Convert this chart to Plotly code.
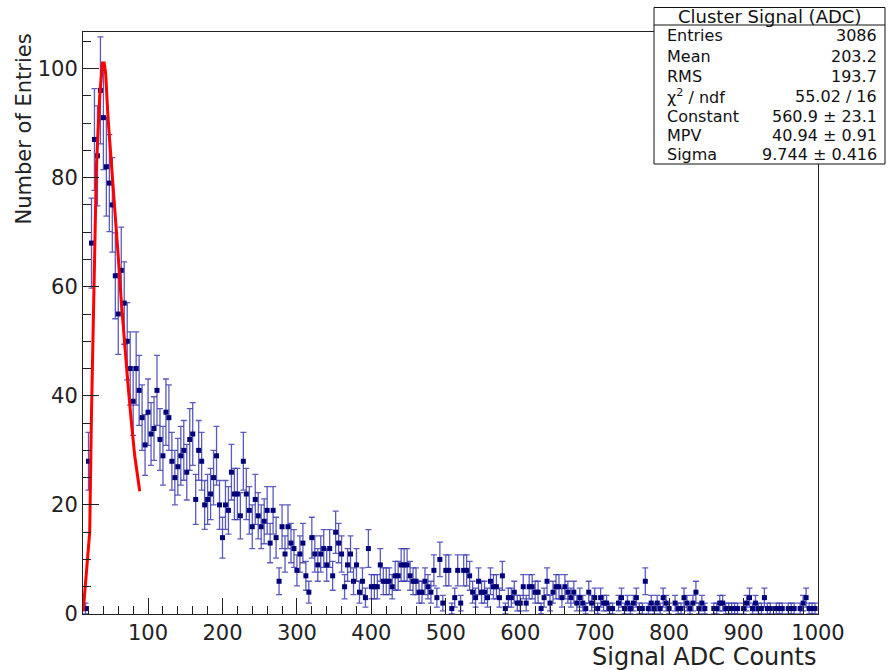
import plotly.graph_objects as go

# ---------------- data ----------------
BIN_LOW = 14.0
BIN_WIDTH = 4.0
counts = [
    1, 28, 68, 87, 84, 96, 91, 82, 79, 75, 62, 55, 63, 57, 50, 45, 39, 45, 41, 36,
    31, 37, 33, 34, 41, 32, 29, 37, 36, 28, 25, 27, 29, 30, 26, 32, 33, 21, 30, 28,
    20, 21, 22, 25, 29, 20, 14, 20, 19, 26, 22, 22, 18, 28, 22, 19, 16, 21, 18, 16,
    17, 19, 13, 19, 14, 6, 16, 11, 16, 13, 12, 8, 11, 13, 7, 4, 14, 11, 9, 11,
    12, 9, 12, 7, 15, 13, 11, 5, 9, 11, 6, 9, 4, 6, 3, 12, 5, 5, 5, 9,
    6, 6, 6, 5, 7, 7, 9, 9, 9, 7, 6, 6, 4, 4, 6, 5, 4, 8, 3, 10,
    2, 8, 8, 1, 3, 8, 2, 8, 8, 7, 4, 3, 6, 4, 4, 3, 6, 5, 5, 3,
    7, 1, 3, 3, 4, 2, 2, 5, 2, 5, 5, 4, 4, 1, 3, 6, 2, 4, 5, 5,
    3, 5, 4, 3, 4, 2, 3, 2, 1, 4, 2, 3, 1, 3, 2, 2, 1, 1, 0, 2,
    3, 1, 2, 1, 2, 3, 1, 1, 6, 1, 2, 1, 2, 1, 3, 2, 1, 0, 2, 1,
    1, 3, 2, 1, 2, 4, 1, 2, 1, 0, 0, 1, 1, 2, 2, 1, 1, 1, 1, 1,
    0, 1, 2, 3, 1, 2, 1, 1, 3, 1, 1, 0, 1, 1, 1, 0, 1, 1, 1, 0,
    1, 2, 3, 1, 1, 1,
]

# Landau fit curve
fit_x = [12.9, 17.2, 21.6, 23.9, 26.1, 27.0, 30.6, 35.1, 38.7, 41.1, 43.1, 46.2,
         50.8, 55.2, 59.7, 64.2, 68.7, 73.1, 77.7, 82.1, 88.8]
fit_y = [0.5, 8, 15, 36, 52, 60, 82, 95, 101, 101, 99, 91,
         83, 74, 66, 57, 49, 42, 35, 29, 22.5]

x_ticks = [100, 200, 300, 400, 500, 600, 700, 800, 900, 1000]
y_ticks = [0, 20, 40, 60, 80, 100]

stats_title = "Cluster Signal (ADC)"
stats_labels = ["Entries", "Mean", "RMS", "χ<sup>2</sup> / ndf", "Constant", "MPV", "Sigma"]
stats_values = ["3086", "203.2", "193.7", "55.02 / 16", "560.9 ± 23.1", "40.94 ± 0.91", "9.744 ± 0.416"]

x_title = "Signal ADC Counts"
y_title = "Number of Entries"

# ---------------- build ----------------
centers = [BIN_LOW + BIN_WIDTH * (i + 0.5) for i in range(len(counts))]
xs = [c for c, n in zip(centers, counts) if n > 0]
ys = [n for n in counts if n > 0]

FONT = "DejaVu Sans"
W, H = 890, 670
# plot-area edges in page pixels
PX_L, PX_R, PY_T, PY_B = 83, 818, 32, 614


def pxx(p):
    return (p - PX_L) / (PX_R - PX_L)


def pyy(p):
    return (PY_B - p) / (PY_B - PY_T)


fig = go.Figure()
fig.add_trace(go.Scatter(
    x=xs, y=ys, mode="markers",
    marker=dict(symbol="square", size=5, color="#00007a"),
    error_y=dict(type="sqrt", color="rgba(50,50,175,0.8)", thickness=1.3, width=3),
    showlegend=False, hoverinfo="skip",
))
fig.add_trace(go.Scatter(
    x=fit_x, y=fit_y, mode="lines",
    line=dict(color="#ff0000", width=3),
    showlegend=False, hoverinfo="skip",
))

axis_common = dict(
    showline=True, linecolor="#222222", linewidth=1, mirror=True,
    ticks="inside", tickcolor="#222222", tickwidth=1, ticklen=16,
    showgrid=False, zeroline=False,
    tickfont=dict(family=FONT, size=21, color="#222222"),
)
fig.update_xaxes(range=[12.6, 1000], tickvals=x_ticks,
                 minor=dict(ticks="inside", ticklen=8, dtick=20, tick0=0,
                            tickcolor="#222222", showgrid=False),
                 **axis_common)
fig.update_yaxes(range=[0, 106.7], tickvals=y_ticks,
                 minor=dict(ticks="inside", ticklen=8, dtick=5, tick0=0,
                            tickcolor="#222222", showgrid=False),
                 **axis_common)

shapes = [
    dict(type="rect", xref="paper", yref="paper",
         x0=pxx(654), x1=pxx(885), y0=pyy(164), y1=pyy(7.5),
         fillcolor="white", line=dict(color="#111111", width=1), layer="above"),
    dict(type="line", xref="paper", yref="paper",
         x0=pxx(654), x1=pxx(885), y0=pyy(25), y1=pyy(25),
         line=dict(color="#111111", width=1), layer="above"),
]

annotations = [
    dict(text=stats_title, xref="paper", yref="paper", x=pxx(769.5), y=pyy(16.5),
         xanchor="center", yanchor="middle", showarrow=False,
         font=dict(family=FONT, size=18, color="#111111")),
    dict(text=x_title, xref="paper", yref="paper", x=pxx(818), y=pyy(657),
         xanchor="right", yanchor="middle", showarrow=False,
         font=dict(family=FONT, size=24, color="#222222")),
    dict(text=y_title, xref="paper", yref="paper", x=pxx(23), y=pyy(32),
         xanchor="center", yanchor="top", textangle=-90, showarrow=False,
         font=dict(family=FONT, size=21, color="#222222")),
]
row_y = [36, 57, 77, 96, 116, 135, 154]
for lab, val, ry in zip(stats_labels, stats_values, row_y):
    annotations.append(dict(text=lab, xref="paper", yref="paper", x=pxx(665), y=pyy(ry),
                            xanchor="left", yanchor="middle", showarrow=False,
                            font=dict(family=FONT, size=16, color="#111111")))
    annotations.append(dict(text=val, xref="paper", yref="paper", x=pxx(879), y=pyy(ry),
                            xanchor="right", yanchor="middle", showarrow=False,
                            font=dict(family=FONT, size=16, color="#111111")))

fig.update_layout(
    width=W, height=H,
    margin=dict(l=PX_L, r=W - PX_R, t=PY_T, b=H - PY_B, pad=0),
    paper_bgcolor="white", plot_bgcolor="white",
    shapes=shapes, annotations=annotations,
    showlegend=False, hovermode=False,
)

# remove the default page margin so the figure sits at the window's top-left corner
fig.write_html("out.html",
               config={"displayModeBar": False},
               post_script="document.body.style.margin='0';document.body.style.overflow='hidden';")
